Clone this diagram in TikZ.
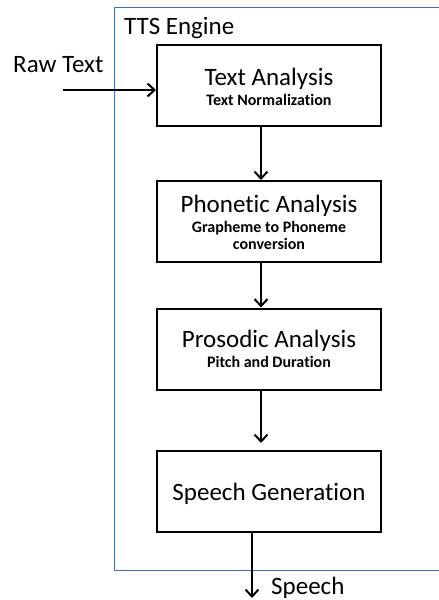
\documentclass[tikz,border=0pt]{standalone}
\usepackage{fontspec}
\setmainfont{Carlito}[Ligatures=NoCommon]
\usetikzlibrary{arrows.meta}
\definecolor{engineblue}{RGB}{72,112,168}
\begin{document}
\begin{tikzpicture}[x=1pt,y=-1pt,
  stage/.style={draw=black,line width=2pt,minimum width=224pt,minimum height=81pt,inner sep=0pt},
  big/.style={font=\fontsize{25}{29}\selectfont,anchor=base,inner sep=0pt},
  small/.style={font=\fontsize{16}{19}\selectfont\bfseries,anchor=base,inner sep=0pt},
  arr/.style={line width=2pt,-{Straight Barb[length=7pt,width=13pt,line width=2pt]}}]
\useasboundingbox (0,0) rectangle (439,600);
% engine frame
\draw[engineblue,line width=1pt] (442,7) -- (114.5,7) -- (114.5,570) -- (442,570);
\node[big,anchor=base west] (eng) at (124,34) {TTS Engine};
% stages
\node[stage] (s1) at (269,85.5) {};
\node[stage] (s2) at (269,221.5) {};
\node[stage] (s3) at (269,349) {};
\node[stage] (s4) at (269,491.5) {};
\node[big] (t1) at (269,85) {Text Analysis};
\node[small] (u1) at (269,105) {Text Normalization};
\node[big] (t2) at (269,212) {Phonetic Analysis};
\node[small] (u2) at (269,232) {Grapheme to Phoneme};
\node[small] (v2) at (269,249) {conversion};
\node[big] (t3) at (269,347) {Prosodic Analysis};
\node[small] (u3) at (269,367) {Pitch and Duration};
\node[big] (t4) at (269,500) {Speech Generation};
% input / output
\node[big,anchor=base west] (raw) at (13,72) {Raw Text};
\coordinate (rawstart) at (63,90);
\draw[arr] (rawstart) -- (s1.west |- rawstart);
\draw[arr] ([xshift=-8pt]s1.south) -- ([xshift=-8pt]s2.north);
\draw[arr] ([xshift=-8pt]s2.south) -- ([xshift=-8pt]s3.north);
\draw[arr] ([xshift=-8pt]s3.south) -- ([xshift=-8pt,yshift=7pt]s4.north);
\coordinate (out) at (252,598);
\draw[arr] (s4.south -| out) -- (out);
\node[big,anchor=base west] (sp) at (271,594) {Speech};
\end{tikzpicture}
\end{document}
